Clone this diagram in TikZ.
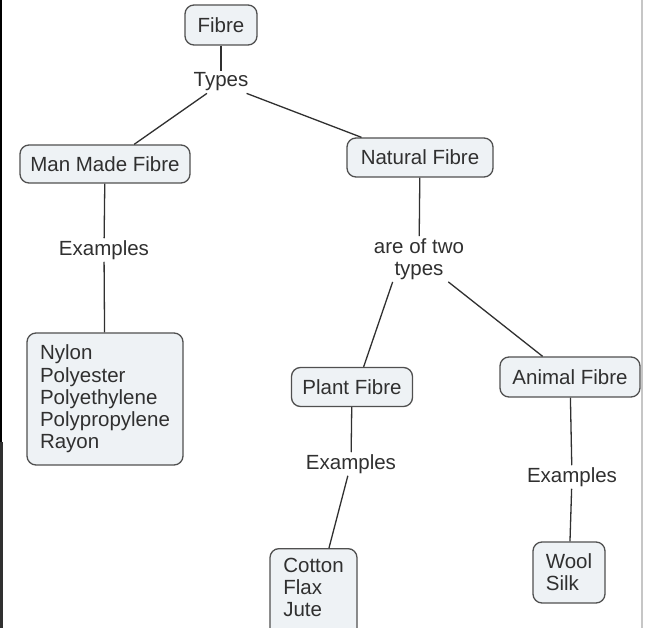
\documentclass[tikz,border=0pt]{standalone}
\usepackage{fontspec}
\setmainfont{Liberation Sans}
\usepackage{tikz}
\definecolor{boxfill}{HTML}{EEF2F5}
\definecolor{boxline}{HTML}{505050}
\definecolor{ink}{HTML}{303030}

\begin{document}
\begin{tikzpicture}[x=1pt,y=-1pt,
  box/.style={draw=boxline,line width=1.3pt,fill=boxfill,rounded corners=9pt,
    text=ink,font=\fontsize{20.5}{22.3}\selectfont,inner sep=0pt,align=left},
  lbl/.style={text=ink,font=\fontsize{20.5}{22.3}\selectfont,inner sep=2pt,align=center},
  link/.style={draw=ink,line width=1.3pt}]
\useasboundingbox (0,0) rectangle (654,628);
\clip (0,0) rectangle (654,628);
\fill[white] (0,0) rectangle (654,628);
\draw[line width=1.5pt] (0.75,0) -- (0.75,628);
\draw[ink,line width=3pt] (1.5,442) -- (1.5,628);
\draw[gray!45,line width=1.5pt] (642,0) -- (642,628);

\node[box,minimum width=72pt,minimum height=40pt] (fibre) at (221,25) {Fibre};
\node[lbl] (types) at (221,82) {Types};
\node[box,minimum width=170pt,minimum height=38pt] (manmade) at (105,164) {Man Made Fibre};
\node[box,minimum width=146pt,minimum height=39pt] (natural) at (420,157.5) {Natural Fibre};
\node[lbl] (exman) at (104,250) {Examples};
\node[box,minimum width=156pt,minimum height=132pt] (nylon) at (105,399)
  {Nylon\\Polyester\\Polyethylene\\Polypropylene\\Rayon};
\node[lbl] (twotypes) at (419,259) {are of two\\types};
\node[box,minimum width=121pt,minimum height=39pt] (plant) at (352,387) {Plant Fibre};
\node[box,minimum width=140pt,minimum height=40pt] (animal) at (570,377) {Animal Fibre};
\node[lbl] (explant) at (351,464) {Examples};
\node[lbl] (exanimal) at (572,477) {Examples};
\node[box,minimum width=87pt,minimum height=100pt,anchor=north] (cotton) at (313.5,548)
  {Cotton\\Flax\\Jute\\~};
\node[box,minimum width=72pt,minimum height=61pt] (wool) at (569,572.5) {Wool\\Silk};

\draw[link] (fibre) -- (types);
\draw[link] (types.219) -- (manmade.34);
\draw[link] (types.-24) -- (natural.161);
\draw[link] (manmade) -- (exman);
\draw[link] (exman) -- (nylon);
\draw[link] (natural) -- (twotypes);
\draw[link] (twotypes.221) -- (plant.60);
\draw[link] (twotypes.-38) -- (animal.143);
\draw[link] (plant) -- (explant);
\draw[link] (explant.255) -- (cotton.73);
\draw[link] (animal) -- (exanimal);
\draw[link] (exanimal) -- (wool);
\end{tikzpicture}
\end{document}
